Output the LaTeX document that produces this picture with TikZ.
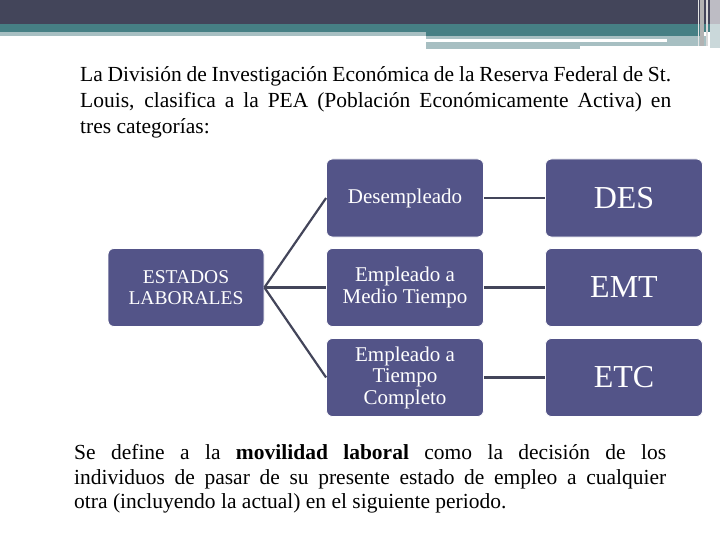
\documentclass[tikz,border=0pt]{standalone}
\usepackage{fontspec}
\setmainfont{Liberation Serif}
\definecolor{bandDark}{HTML}{43455A}
\definecolor{bandTeal}{HTML}{467F84}
\definecolor{bandLight}{HTML}{A7BFC2}
\definecolor{bandGrey}{HTML}{BDBCC4}
\definecolor{boxFill}{HTML}{535488}
\definecolor{lineCol}{HTML}{43455A}
\tikzset{
  box/.style={draw=white, line width=0.8pt, fill=boxFill, rounded corners=6pt, text=white, align=center, inner sep=0pt, minimum width=157pt, minimum height=78pt, font=\fontsize{21}{21.5}\selectfont},
  bigbox/.style={box, font=\fontsize{32}{34}\selectfont},
  conn/.style={draw=lineCol, line width=2.2pt},
  para/.style={anchor=base west, inner sep=0pt, font=\fontsize{21.5}{24}\selectfont}
}
\begin{document}
\begin{tikzpicture}[x=1pt,y=-1pt]
\useasboundingbox (0,0) rectangle (720,540);
% top band
\fill[bandDark] (0,0) rectangle (720,24);
\fill[bandTeal] (0,24) rectangle (720,32);
\fill[bandLight] (0,32) rectangle (426,36);
\fill[bandTeal] (426,32) rectangle (700,36);
\fill[bandLight] (426,36) rectangle (667,39);
\fill[bandLight] (426,42) rectangle (580,49);
\fill[bandLight] (580,42) rectangle (707,46);
\fill[bandLight] (667,36) rectangle (707,46);
\fill[bandGrey] (710,0) rectangle (720,24);
\fill[bandLight!60] (710,24) rectangle (720,48);
\fill[gray!60] (700,0) rectangle (704,46);
\draw[white!80!gray, line width=1pt] (698,0) -- (698,46);
\draw[white!70!gray, line width=1.5pt] (707,0) -- (707,46);
% first paragraph
\node[para] (p1) at (80,82) {\makebox[591pt][s]{La División de Investigación Económica de la Reserva Federal de St.}};
\node[para] (p2) at (80,108) {\makebox[591pt][s]{Louis, clasifica a la PEA (Población Económicamente Activa) en}};
\node[para] (p3) at (80,134) {tres categorías:};
% boxes
\node[box, minimum width=156pt, font=\fontsize{19.5}{21.5}\selectfont] (est) at (186,287.5) {ESTADOS\\LABORALES};
\node[box] (des) at (405,198) {Desempleado};
\node[box] (emp) at (405,287.5) {Empleado a\\Medio Tiempo};
\node[box] (etc) at (405,377.5) {Empleado a\\Tiempo\\Completo};
\node[bigbox] (rdes) at (624,198) {DES};
\node[bigbox] (remt) at (624,287.5) {EMT};
\node[bigbox] (retc) at (624,377.5) {ETC};
% connectors
\draw[conn] (est.east) -- (des.west);
\draw[conn] (est.east) -- (emp.west);
\draw[conn] (est.east) -- (etc.west);
\draw[conn] (des.east) -- (rdes.west);
\draw[conn] (emp.east) -- (remt.west);
\draw[conn] (etc.east) -- (retc.west);
% second paragraph
\node[para] (q1) at (74,459) {\makebox[592pt][s]{Se define a la \textbf{movilidad laboral} como la decisión de los}};
\node[para] (q2) at (74,484) {\makebox[592pt][s]{individuos de pasar de su presente estado de empleo a cualquier}};
\node[para] (q3) at (74,508) {otra (incluyendo la actual) en el siguiente periodo.};
\end{tikzpicture}
\end{document}
